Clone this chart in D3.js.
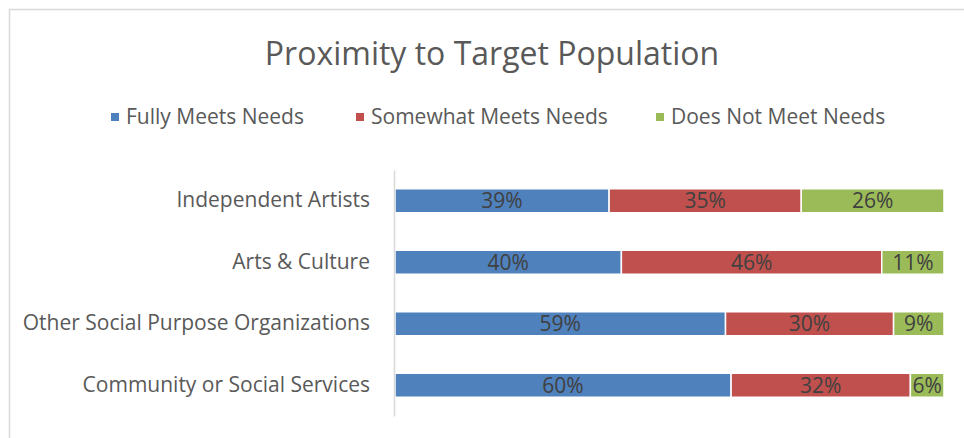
<!DOCTYPE html>
<html>
<head>
<meta charset="utf-8">
<script src="https://cdn.jsdelivr.net/npm/d3@7"></script>
<style>
  html, body { margin: 0; padding: 0; background: #fff; }
  svg { display: block; font-family: "Open Sans", Lato, "Noto Sans", sans-serif; }
</style>
</head>
<body>
<svg id="chart" width="964" height="438"></svg>
<script>
// Survey results: how well each sector's location meets target population needs
const categories = ["Independent Artists", "Arts & Culture", "Other Social Purpose Organizations", "Community or Social Services"];
const seriesNames = ["Fully Meets Needs", "Somewhat Meets Needs", "Does Not Meet Needs"];
const fullyMeets = [39, 40, 59, 60];
const somewhatMeets = [35, 46, 30, 32];
const doesNotMeet = [26, 11, 9, 6];
const seriesColors = ["#4F81BD", "#C0504D", "#9BBB59"];

const FONT = "'Open Sans', Lato, 'Noto Sans', sans-serif";

const rows = categories.map((c, i) => ({
  category: c,
  "Fully Meets Needs": fullyMeets[i],
  "Somewhat Meets Needs": somewhatMeets[i],
  "Does Not Meet Needs": doesNotMeet[i]
}));

const svg = d3.select("#chart");
const W = 964, H = 438;

// chart frame
svg.append("path")
  .attr("d", `M9.5,${H} V9.5 H${W}`)
  .attr("fill", "none")
  .attr("stroke", "#d9d9d9")
  .attr("stroke-width", 1.5);

// title
svg.append("text")
  .attr("x", 492).attr("y", 65)
  .attr("text-anchor", "middle")
  .attr("fill", "#595959")
  .attr("font-size", 32)
  .text("Proximity to Target Population");

const plot = { left: 395, right: 944, top: 170, bottom: 416 };

const x = d3.scaleLinear().domain([0, 1]).range([plot.left, plot.right]);
const y = d3.scaleBand().domain(categories).range([plot.top, plot.bottom]).paddingInner(0.61).paddingOuter(0.305);
const color = d3.scaleOrdinal().domain(seriesNames).range(seriesColors);

const stacked = d3.stack().keys(seriesNames).offset(d3.stackOffsetExpand)(rows);

// legend
const legendX = [111, 356, 656];
const legend = svg.append("g");
seriesNames.forEach((name, i) => {
  const g = legend.append("g").attr("transform", `translate(${legendX[i]},117)`);
  g.append("rect").attr("x", 0).attr("y", -4).attr("width", 8).attr("height", 8).attr("fill", color(name));
  g.append("text").attr("x", 15).attr("y", 0).attr("dy", "0.35em")
    .attr("fill", "#595959").attr("font-size", 21).text(name);
});

// bars
const layers = svg.append("g").selectAll("g")
  .data(stacked).join("g")
  .attr("fill", d => color(d.key));

layers.selectAll("rect")
  .data(d => d.map(p => ({ p, key: d.key })))
  .join("rect")
  .attr("x", d => x(d.p[0]))
  .attr("y", d => y(d.p.data.category))
  .attr("width", d => x(d.p[1]) - x(d.p[0]))
  .attr("height", y.bandwidth())
  .attr("stroke", "#fff")
  .attr("stroke-width", 1.5);

// data labels show the reported percentages
layers.selectAll("text")
  .data(d => d.map(p => ({ p, key: d.key })))
  .join("text")
  .attr("x", d => (x(d.p[0]) + x(d.p[1])) / 2)
  .attr("y", d => y(d.p.data.category) + y.bandwidth() / 2)
  .attr("dy", "0.35em")
  .attr("text-anchor", "middle")
  .attr("fill", "#404040")
  .attr("font-size", 21)
  .text(d => d.p.data[d.key] + "%");

// category axis
const yAxis = svg.append("g")
  .attr("transform", `translate(${plot.left - 1},0)`)
  .call(d3.axisLeft(y).tickSize(0).tickPadding(24));
yAxis.select(".domain").attr("stroke", "#d9d9d9").attr("stroke-width", 1.5);
yAxis.selectAll("text").attr("fill", "#595959").attr("font-size", 21).attr("font-family", FONT);
</script>
</body>
</html>
